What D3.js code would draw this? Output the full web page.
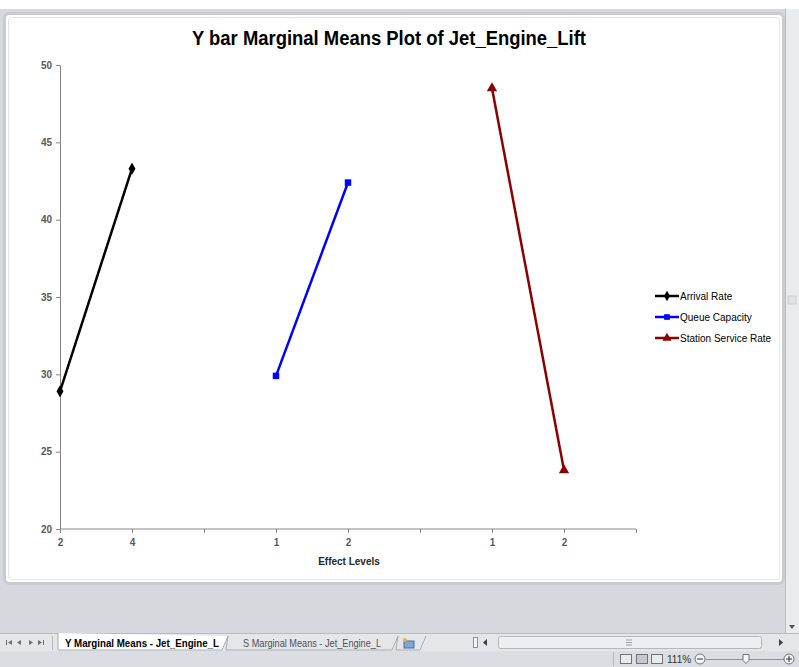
<!DOCTYPE html>
<html>
<head>
<meta charset="utf-8">
<script src="https://cdn.jsdelivr.net/npm/d3@7"></script>
<style>
  html, body { margin: 0; padding: 0; background: #ffffff; }
  svg { display: block; }
</style>
</head>
<body>
<svg id="win" width="799" height="667"></svg>
<script>
// Category slots along the x axis (blank slots separate the three factors)
const xLabels = ["2", "4", "", "1", "2", "", "1", "2", ""];
const yTicks = [20, 25, 30, 35, 40, 45, 50];

// Marginal means per factor: category slot and mean value
const arrivalRateSlots = [0, 1];
const arrivalRateMeans = [28.9, 43.3];
const queueCapacitySlots = [3, 4];
const queueCapacityMeans = [29.9, 42.4];
const serviceRateSlots = [6, 7];
const serviceRateMeans = [48.5, 23.8];

const seriesNames = ["Arrival Rate", "Queue Capacity", "Station Service Rate"];
const seriesColors = ["#000000", "#0000ff", "#8b0000"];
const seriesSymbols = [d3.symbolDiamond, d3.symbolSquare, d3.symbolTriangle];

const titleText = "Y bar Marginal Means Plot of Jet_Engine_Lift";
const xTitle = "Effect Levels";
const sheetTabs = ["Y Marginal Means - Jet_Engine_L", "S Marginal Means - Jet_Engine_L"];
const zoomText = "111%";

const series = [
  { name: seriesNames[0], slots: arrivalRateSlots, values: arrivalRateMeans },
  { name: seriesNames[1], slots: queueCapacitySlots, values: queueCapacityMeans },
  { name: seriesNames[2], slots: serviceRateSlots, values: serviceRateMeans }
];

const svg = d3.select("#win");
const uiFont = "'Liberation Sans Narrow', 'Liberation Sans', 'Noto Sans', sans-serif";

// ---- workbook window chrome ----
svg.append("rect").attr("x", 0).attr("y", 9).attr("width", 799).attr("height", 658).attr("fill", "#d5d8dd");
// vertical scrollbar
svg.append("rect").attr("x", 785).attr("y", 9).attr("width", 14).attr("height", 624).attr("fill", "#e9ebee");
svg.append("line").attr("x1", 785.5).attr("x2", 785.5).attr("y1", 9).attr("y2", 633).attr("stroke", "#b9bdc4");
svg.append("rect").attr("x", 788).attr("y", 296).attr("width", 8).attr("height", 8).attr("fill", "#dfe2e6").attr("stroke", "#c8ccd2");
svg.append("path").attr("d", "M789,625 L795,625 L792,629 Z").attr("fill", "#505050");

// chart sheet frame
svg.append("rect").attr("x", 4.5).attr("y", 13.5).attr("width", 779).attr("height", 570)
  .attr("rx", 5).attr("fill", "#ffffff").attr("stroke", "#c8cbd0").attr("stroke-width", 3);
svg.append("rect").attr("x", 8.5).attr("y", 17.5).attr("width", 771).attr("height", 562)
  .attr("rx", 3).attr("fill", "#ffffff").attr("stroke", "#e3e5e8").attr("stroke-width", 1);

// ---- chart ----
const x = d3.scalePoint().domain(d3.range(xLabels.length)).range([60, 636]);
const y = d3.scaleLinear().domain([20, 50]).range([529, 65]);

const axisColor = "#868686";
const labelColor = "#595959";

const yAxis = svg.append("g").attr("transform", "translate(60,0)")
  .call(d3.axisLeft(y).tickValues(yTicks).tickSize(4).tickPadding(4));
const xAxis = svg.append("g").attr("transform", "translate(0,529)")
  .call(d3.axisBottom(x).tickSize(4).tickPadding(6).tickFormat(i => xLabels[i]));
[yAxis, xAxis].forEach(g => {
  g.select(".domain").attr("stroke", axisColor).attr("stroke-width", 1);
  g.selectAll(".tick line").attr("stroke", axisColor);
  g.selectAll(".tick text").attr("fill", labelColor)
    .style("font-family", uiFont).style("font-size", "10px").style("font-weight", "bold");
});
xAxis.select(".domain").attr("d", "M60,0H636");

svg.append("text").attr("x", 389).attr("y", 45).attr("text-anchor", "middle")
  .attr("textLength", 394).attr("lengthAdjust", "spacingAndGlyphs")
  .style("font-family", uiFont).style("font-size", "20px").style("font-weight", "bold")
  .attr("fill", "#000000").text(titleText);

svg.append("text").attr("x", 349).attr("y", 565).attr("text-anchor", "middle")
  .style("font-family", uiFont).style("font-size", "10px").style("font-weight", "bold")
  .attr("fill", "#262626").text(xTitle);

const line = d3.line().x(d => x(d.slot)).y(d => y(d.value));
series.forEach((s, k) => {
  const pts = s.slots.map((slot, i) => ({ slot, value: s.values[i] }));
  svg.append("path").datum(pts).attr("d", line).attr("fill", "none")
    .attr("stroke", seriesColors[k]).attr("stroke-width", 2.5);
  svg.selectAll(null).data(pts).enter().append("path")
    .attr("transform", d => `translate(${x(d.slot)},${y(d.value)})`)
    .attr("d", d3.symbol().type(seriesSymbols[k]).size(k === 2 ? 46 : 42))
    .attr("fill", seriesColors[k]);
});

// legend
const legend = svg.append("g").attr("transform", "translate(655,296)");
seriesNames.forEach((name, k) => {
  const row = legend.append("g").attr("transform", `translate(0,${k * 21})`);
  row.append("line").attr("x1", 0).attr("x2", 24).attr("stroke", seriesColors[k]).attr("stroke-width", 2.5);
  row.append("path").attr("transform", "translate(12,0)")
    .attr("d", d3.symbol().type(seriesSymbols[k]).size(k === 2 ? 36 : 32)).attr("fill", seriesColors[k]);
  row.append("text").attr("x", 25).attr("y", 4)
    .style("font-family", uiFont).style("font-size", "10px").attr("fill", "#000000").text(name);
});

// ---- sheet tabs row ----
svg.append("rect").attr("x", 0).attr("y", 633).attr("width", 799).attr("height", 18).attr("fill", "#e4e6e9");
svg.append("line").attr("x1", 0).attr("x2", 799).attr("y1", 633.5).attr("y2", 633.5).attr("stroke", "#b7bbc2");
// navigation arrows
const navG = svg.append("g").attr("fill", "#6b6f75");
navG.append("rect").attr("x", 6).attr("y", 640).attr("width", 1).attr("height", 5);
navG.append("path").attr("d", "M12,640 L8,642.5 L12,645 Z");
navG.append("path").attr("d", "M21,640 L17,642.5 L21,645 Z");
navG.append("path").attr("d", "M29,640 L33,642.5 L29,645 Z");
navG.append("path").attr("d", "M38,640 L42,642.5 L38,645 Z");
navG.append("rect").attr("x", 43).attr("y", 640).attr("width", 1).attr("height", 5);
svg.append("line").attr("x1", 52.5).attr("x2", 52.5).attr("y1", 636).attr("y2", 650).attr("stroke", "#b7bbc2");

svg.append("path").attr("d", "M58,633 L58,650 L222,650 L228,636").attr("fill", "#ffffff").attr("stroke", "#a9adb3");
svg.append("text").attr("x", 65).attr("y", 647).attr("textLength", 154).attr("lengthAdjust", "spacingAndGlyphs")
  .style("font-family", uiFont).style("font-size", "11px")
  .style("font-weight", "bold").attr("fill", "#000").text(sheetTabs[0]);
svg.append("path").attr("d", "M228,636 L226,650 L392,650 L398,636").attr("fill", "none").attr("stroke", "#a9adb3");
svg.append("text").attr("x", 243).attr("y", 647).attr("textLength", 138).attr("lengthAdjust", "spacingAndGlyphs")
  .style("font-family", uiFont).style("font-size", "11px")
  .attr("fill", "#505050").text(sheetTabs[1]);
svg.append("path").attr("d", "M398,636 L396,650 L420,650 L426,636").attr("fill", "none").attr("stroke", "#a9adb3");
svg.append("rect").attr("x", 404).attr("y", 641).attr("width", 10).attr("height", 7).attr("fill", "#7ea6d6").attr("stroke", "#4a6f9c");
svg.append("circle").attr("cx", 405).attr("cy", 640).attr("r", 2).attr("fill", "#f3b13a");

// horizontal scrollbar
svg.append("rect").attr("x", 473.5).attr("y", 637.5).attr("width", 4).attr("height", 10).attr("fill", "#f4f5f6").attr("stroke", "#8f9399");
svg.append("path").attr("d", "M487,639 L483,642.5 L487,646 Z").attr("fill", "#404040");
svg.append("rect").attr("x", 498.5).attr("y", 636.5).attr("width", 263).attr("height", 12).attr("rx", 2)
  .attr("fill", "#eceef1").attr("stroke", "#b3b7bd");
svg.append("path").attr("d", "M626,640 h6 M626,642.5 h6 M626,645 h6").attr("stroke", "#9a9ea4");
svg.append("path").attr("d", "M779,639 L783,642.5 L779,646 Z").attr("fill", "#404040");

// ---- status bar ----
svg.append("rect").attr("x", 0).attr("y", 651).attr("width", 799).attr("height", 16).attr("fill", "#dadde1");
svg.append("line").attr("x1", 613.5).attr("x2", 613.5).attr("y1", 652).attr("y2", 666).attr("stroke", "#b5b9bf");
[620, 636, 651].forEach((px, i) => {
  svg.append("rect").attr("x", px + 0.5).attr("y", 654.5).attr("width", 11).attr("height", 9)
    .attr("fill", i === 1 ? "#c4c8ce" : "#e8eaed").attr("stroke", "#6f7379");
});
svg.append("text").attr("x", 667).attr("y", 663).style("font-family", uiFont).style("font-size", "10px")
  .attr("fill", "#333").text(zoomText);
svg.append("circle").attr("cx", 700).attr("cy", 659).attr("r", 5).attr("fill", "#f2f3f5").attr("stroke", "#6f7379");
svg.append("line").attr("x1", 697).attr("x2", 703).attr("y1", 659).attr("y2", 659).attr("stroke", "#333");
svg.append("line").attr("x1", 706).attr("x2", 784).attr("y1", 659.5).attr("y2", 659.5).attr("stroke", "#8d9197");
svg.append("path").attr("d", "M743,654.5 h6 v6 l-3,3 l-3,-3 Z").attr("fill", "#f5f6f7").attr("stroke", "#6f7379");
svg.append("circle").attr("cx", 789).attr("cy", 659).attr("r", 5).attr("fill", "#f2f3f5").attr("stroke", "#6f7379");
svg.append("path").attr("d", "M786,659 h6 M789,656 v6").attr("stroke", "#333");
</script>
</body>
</html>
